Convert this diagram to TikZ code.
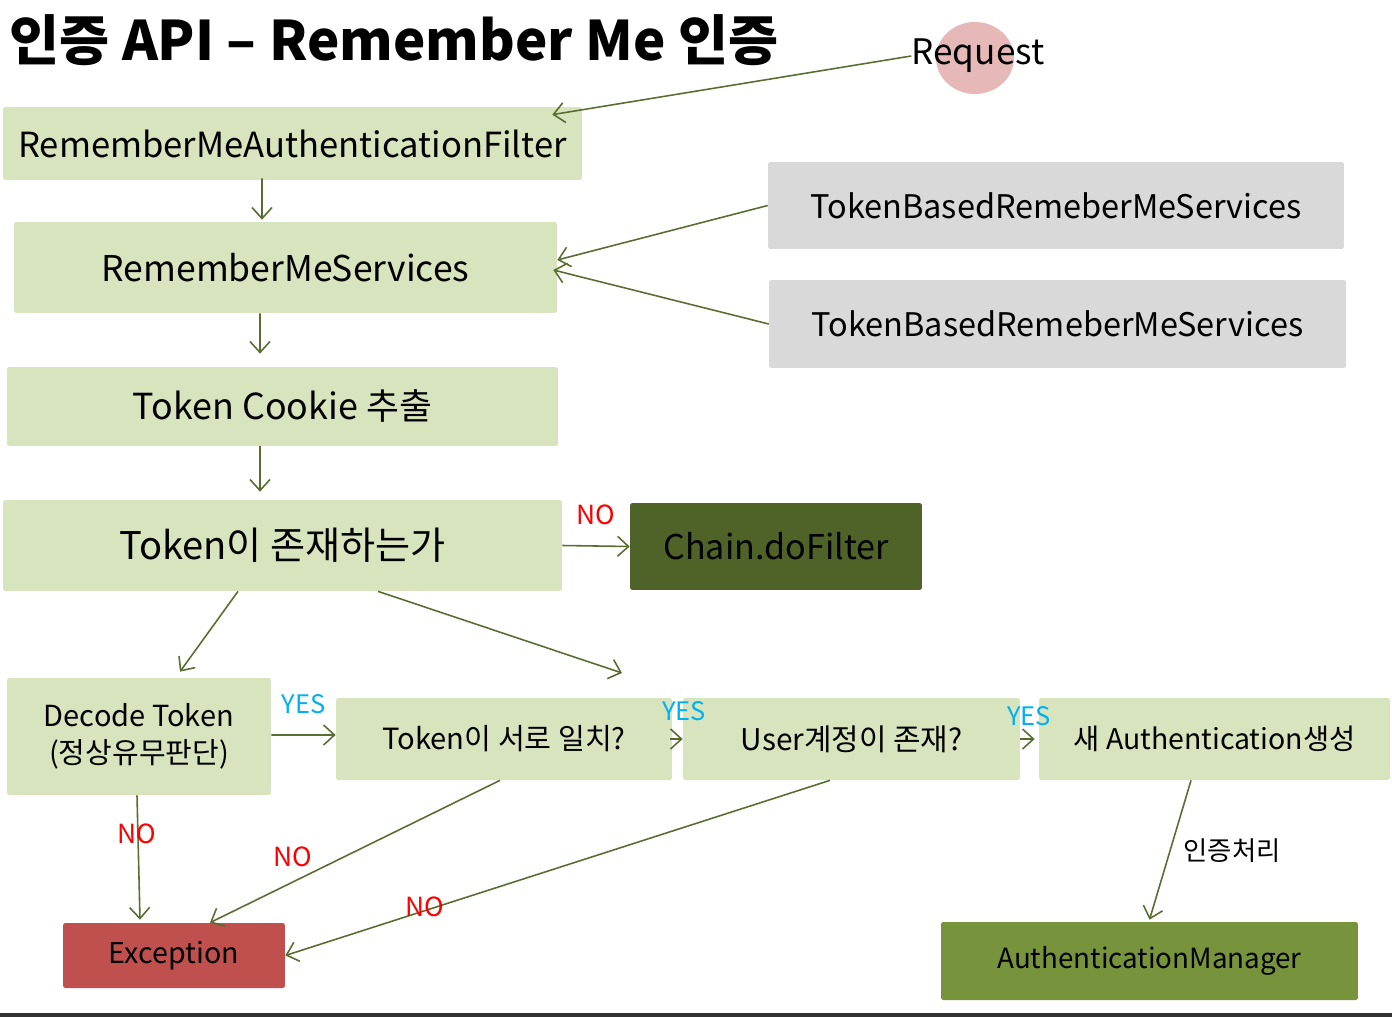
\documentclass[tikz,border=0pt]{standalone}
\usepackage{fontspec}
\setmainfont{Noto Sans CJK KR}
\usetikzlibrary{shapes.geometric,arrows.meta}
\definecolor{boxgreen}{RGB}{215,228,189}
\definecolor{boxgray}{RGB}{217,217,217}
\definecolor{chaingreen}{RGB}{79,98,40}
\definecolor{mgrgreen}{RGB}{119,147,60}
\definecolor{excred}{RGB}{192,80,77}
\definecolor{reqpink}{RGB}{230,185,184}
\definecolor{arrowline}{RGB}{88,110,48}
\definecolor{yescyan}{RGB}{0,176,240}
\newcommand\fsz[1]{\fontsize{#1}{#1}\selectfont}

\begin{document}
\begin{tikzpicture}[
  x=0.02cm, y=-0.02cm,
  box/.style={rounded corners=1pt, align=center, inner sep=0pt, font={\fsz{20}}},
  grn/.style={box, fill=boxgreen},
  gry/.style={box, fill=boxgray},
  dark/.style={box, fill=chaingreen},
  bad/.style={box, fill=excred},
  mgr/.style={box, fill=mgrgreen},
  arr/.style={-{Straight Barb[length=2.2mm, width=4mm]}, draw=arrowline, line width=0.9pt},
  nolbl/.style={text=red, font={\fsz{15}}, inner sep=0pt},
  yeslbl/.style={text=yescyan, font={\fsz{14.5}}, inner sep=0pt}
]
\useasboundingbox (0,0) rectangle (1392,1017);
\fill[black!80] (0,1013) rectangle (1392,1017);

\node[anchor=west, font={\fsz{31}\bfseries}, inner sep=0pt] (title) at (9,40) {인증 API – Remember Me 인증};
\node[ellipse, fill=reqpink, minimum width=1.56cm, minimum height=1.44cm, inner sep=0pt] (reqbg) at (975,58) {};
\node[font={\fsz{20}}, inner sep=0pt] (req) at (978,56) {Request};

\node[grn, minimum width=11.58cm, minimum height=1.46cm, font={\fsz{19.7}}] (filter) at (292.5,143.5) {RememberMeAuthenticationFilter};
\node[grn, minimum width=10.86cm, minimum height=1.82cm, font={\fsz{20.2}}] (services) at (285.5,267.5) {RememberMeServices};
\node[gry, minimum width=11.52cm, minimum height=1.74cm, font={\fsz{18.5}}] (tb1) at (1056,205.5) {TokenBasedRemeberMeServices};
\node[gry, minimum width=11.54cm, minimum height=1.76cm, font={\fsz{18.5}}] (tb2) at (1057.5,324) {TokenBasedRemeberMeServices};
\node[grn, minimum width=11.02cm, minimum height=1.58cm, font={\fsz{20.4}}] (cookie) at (282.5,406.5) {Token Cookie 추출};
\node[grn, minimum width=11.18cm, minimum height=1.82cm, font={\fsz{21.7}}] (exists) at (282.5,545.5) {Token이 존재하는가};
\node[dark, minimum width=5.84cm, minimum height=1.74cm, font={\fsz{19.4}}] (chain) at (776,546.5) {Chain.doFilter};
\node[grn, minimum width=5.28cm, minimum height=2.34cm, font={\fontsize{16.5}{21}\selectfont}] (decode) at (139,736.5) {Decode Token\\(정상유무판단)};
\node[grn, minimum width=6.72cm, minimum height=1.64cm, font={\fsz{16.6}}] (match) at (504,739) {Token이 서로 일치?};
\node[grn, minimum width=6.74cm, minimum height=1.64cm, font={\fsz{17}}] (user) at (851.5,739) {User계정이 존재?};
\node[grn, minimum width=7.02cm, minimum height=1.64cm, font={\fsz{16.2}}] (newauth) at (1214.5,739) {새 Authentication생성};
\node[bad, minimum width=4.44cm, minimum height=1.30cm, font={\fsz{16.3}}] (exc) at (174,955.5) {Exception};
\node[mgr, minimum width=8.34cm, minimum height=1.56cm, font={\fsz{15.8}}] (mgr) at (1149.5,961) {AuthenticationManager};
\coordinate (tomatch) at (622,673);

\draw[arr] (req.west) -- ([xshift=-0.6cm, yshift=-0.16cm]filter.north east);
\draw[arr] ([xshift=-0.61cm, yshift=0.04cm]filter.south) -- ([xshift=-0.47cm, yshift=0.04cm]services.north);
\draw[arr] (tb1.west) -- ([yshift=0.15cm]services.east);
\draw[arr] (tb2.west) -- ([xshift=-0.08cm, yshift=-0.05cm]services.east);
\draw[arr] ([xshift=-0.51cm]services.south) -- ([xshift=-0.45cm, yshift=0.26cm]cookie.north);
\draw[arr] ([xshift=-0.45cm]cookie.south) -- ([xshift=-0.45cm, yshift=0.16cm]exists.north);
\draw[arr] (exists.east) -- (chain.west) node[nolbl, midway, above=0.4cm] {NO};
\draw[arr] ([xshift=-0.89cm]exists.south) -- ([xshift=0.82cm, yshift=0.12cm]decode.north);
\draw[arr] ([xshift=1.91cm]exists.south) -- (tomatch);
\draw[arr] ([yshift=0.03cm]decode.east) -- ([yshift=0.08cm]match.west) node[yeslbl, midway, above=0.4cm] {YES};
\draw[arr] ([xshift=-0.05cm]match.east) -- (user.west);
\draw[arr] (user.east) -- ([xshift=-0.08cm]newauth.west);
\node[yeslbl] (yes2) at (684,711) {YES};
\node[yeslbl] (yes3) at (1029,716) {YES};
\draw[arr] ([xshift=-0.04cm]decode.south) -- ([xshift=-0.68cm, yshift=0.06cm]exc.north);
\node[nolbl] (no1) at (137,834) {NO};
\draw[arr] ([xshift=-0.08cm]match.south) -- ([xshift=0.72cm]exc.north);
\node[nolbl] (no2) at (293,857) {NO};
\draw[arr] ([xshift=-0.43cm]user.south) -- (exc.east);
\node[nolbl] (no3) at (425,907) {NO};
\draw[arr] ([xshift=-0.47cm]newauth.south) -- ([yshift=0.04cm]mgr.north);
\node[font={\fsz{15}}, inner sep=0pt] (authlbl) at (1232,851) {인증처리};
\end{tikzpicture}
\end{document}
